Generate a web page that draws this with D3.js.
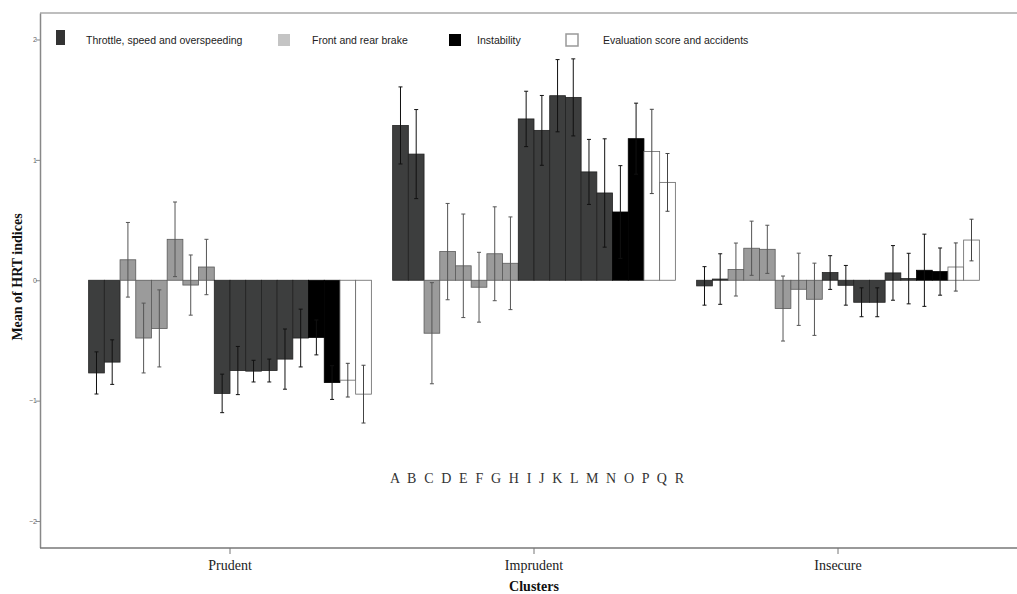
<!DOCTYPE html>
<html>
<head>
<meta charset="utf-8">
<script src="https://cdn.jsdelivr.net/npm/d3@7"></script>
<style>
  body { margin: 0; background: #fff; }
  svg { display: block; }
</style>
</head>
<body>
<script>
  var width = 1017, height = 594;
  var margin = {top: 13, right: 0, bottom: 46, left: 40};

  // indices A..R, same order inside every cluster
  var letters = ["A","B","C","D","E","F","G","H","I","J","K","L","M","N","O","P","Q","R"];
  var clusters = ["Prudent", "Imprudent", "Insecure"];
  // which family each index belongs to
  var families = ["throttle","throttle","brake","brake","brake","brake","brake","brake",
                  "throttle","throttle","throttle","throttle","throttle","throttle",
                  "instability","instability","evaluation","evaluation"];
  var familyNames = ["Throttle, speed and overspeeding", "Front and rear brake", "Instability", "Evaluation score and accidents"];

  // means
  var prudentMean   = [-0.77,-0.68,0.17,-0.48,-0.40,0.34,-0.04,0.11,-0.94,-0.75,-0.755,-0.75,-0.655,-0.48,-0.475,-0.85,-0.83,-0.946];
  var imprudentMean = [1.286,1.048,-0.44,0.238,0.12,-0.058,0.22,0.141,1.34,1.245,1.533,1.519,0.90,0.725,0.567,1.176,1.07,0.813];
  var insecureMean  = [-0.047,0.01,0.089,0.266,0.257,-0.235,-0.075,-0.158,0.064,-0.042,-0.183,-0.183,0.061,0.014,0.083,0.072,0.11,0.334];
  // half width of the error bars
  var prudentErr   = [0.175,0.185,0.31,0.29,0.32,0.31,0.25,0.23,0.16,0.2,0.09,0.095,0.25,0.24,0.145,0.14,0.14,0.24];
  var imprudentErr = [0.32,0.37,0.42,0.40,0.43,0.29,0.39,0.385,0.23,0.29,0.30,0.32,0.27,0.45,0.385,0.295,0.35,0.24];
  var insecureErr  = [0.16,0.21,0.22,0.225,0.2,0.27,0.3,0.3,0.14,0.165,0.12,0.12,0.227,0.21,0.30,0.196,0.2,0.173];

  var yTicks = [-2, -1, 0, 1, 2];

  var means = [prudentMean, imprudentMean, insecureMean];
  var errs = [prudentErr, imprudentErr, insecureErr];

  var fill = {throttle: "#3d3e3e", brake: "#9b9b9b", instability: "#000000", evaluation: "#ffffff"};
  var stroke = {throttle: "#222", brake: "#5a5a5a", instability: "#000", evaluation: "#666"};
  var whisker = {throttle: "#111", brake: "#555", instability: "#111", evaluation: "#444"};
  var legendFill = {throttle: "#333", brake: "#c4c4c4", instability: "#000", evaluation: "#fff"};

  var data = [];
  clusters.forEach(function(c, i) {
    letters.forEach(function(l, j) {
      data.push({cluster: c, letter: l, family: families[j], mean: means[i][j], err: errs[i][j]});
    });
  });

  var svg = d3.select("body").append("svg")
      .attr("width", width)
      .attr("height", height);

  var x = d3.scaleBand()
      .domain(clusters)
      .range([78, 990])
      .paddingInner(0.07)
      .paddingOuter(0.035);

  var xIn = d3.scaleBand()
      .domain(letters)
      .range([0, x.bandwidth()]);

  var y = d3.scaleLinear()
      .domain([-2.22, 2.22])
      .range([height - margin.bottom - 0.5, margin.top]);

  // frame: top line
  svg.append("line")
      .attr("x1", margin.left).attr("x2", width)
      .attr("y1", margin.top).attr("y2", margin.top)
      .attr("stroke", "#a8a8a8").attr("stroke-width", 1.5);

  // bars
  var g = svg.append("g");
  g.selectAll("rect.bar")
    .data(data)
    .enter().append("rect")
      .attr("class", "bar")
      .attr("x", function(d) { return x(d.cluster) + xIn(d.letter); })
      .attr("width", xIn.bandwidth())
      .attr("y", function(d) { return y(Math.max(0, d.mean)); })
      .attr("height", function(d) { return Math.abs(y(d.mean) - y(0)); })
      .attr("fill", function(d) { return fill[d.family]; })
      .attr("stroke", function(d) { return stroke[d.family]; })
      .attr("stroke-width", 0.8);

  // error bars
  var eb = g.selectAll("g.err")
    .data(data)
    .enter().append("g")
      .attr("class", "err")
      .attr("transform", function(d) { return "translate(" + (x(d.cluster) + xIn(d.letter) + xIn.bandwidth() / 2) + ",0)"; })
      .attr("stroke", function(d) { return whisker[d.family]; })
      .attr("stroke-width", 1);
  eb.append("line")
      .attr("y1", function(d) { return y(d.mean + d.err); })
      .attr("y2", function(d) { return y(d.mean - d.err); });
  eb.append("line")
      .attr("x1", -2).attr("x2", 2)
      .attr("y1", function(d) { return y(d.mean + d.err); })
      .attr("y2", function(d) { return y(d.mean + d.err); });
  eb.append("line")
      .attr("x1", -2).attr("x2", 2)
      .attr("y1", function(d) { return y(d.mean - d.err); })
      .attr("y2", function(d) { return y(d.mean - d.err); });

  // y axis
  var yAxis = svg.append("g")
      .attr("transform", "translate(" + margin.left + ",0)")
      .call(d3.axisLeft(y).tickValues(yTicks).tickSize(4).tickSizeOuter(0).tickFormat(d3.format("d")));
  yAxis.select(".domain").attr("stroke", "#888").attr("stroke-width", 1.5);
  yAxis.selectAll(".tick line").attr("stroke", "#888");
  yAxis.selectAll(".tick text")
      .attr("fill", "#666")
      .attr("font-family", "Liberation Sans, Arial, sans-serif")
      .attr("font-size", 7)
      .attr("x", -3);

  // x axis
  var xAxis = svg.append("g")
      .attr("transform", "translate(0," + (height - margin.bottom) + ")")
      .call(d3.axisBottom(x).tickSize(6).tickSizeOuter(0));
  xAxis.select(".domain")
      .attr("d", "M" + margin.left + ",0H" + width)
      .attr("stroke", "#777").attr("stroke-width", 1.5);
  xAxis.selectAll(".tick line").attr("stroke", "#777").attr("y2", 6);
  xAxis.selectAll(".tick text")
      .attr("fill", "#222")
      .attr("font-family", "Liberation Serif, Times New Roman, serif")
      .attr("font-size", 14)
      .attr("y", 12);

  // axis titles
  svg.append("text")
      .attr("x", 534).attr("y", 591)
      .attr("text-anchor", "middle")
      .attr("font-family", "Liberation Serif, Times New Roman, serif")
      .attr("font-weight", "bold")
      .attr("font-size", 14)
      .attr("fill", "#111")
      .text("Clusters");

  svg.append("text")
      .attr("transform", "translate(22,277) rotate(-90)")
      .attr("text-anchor", "middle")
      .attr("font-family", "Liberation Serif, Times New Roman, serif")
      .attr("font-weight", "bold")
      .attr("font-size", 14)
      .attr("fill", "#111")
      .text("Mean of HRT indices");

  // letter key in the middle of the plot
  svg.append("text")
      .attr("x", 390).attr("y", 483)
      .attr("font-family", "Liberation Serif, Times New Roman, serif")
      .attr("font-size", 14)
      .attr("fill", "#333")
      .attr("textLength", 294)
      .attr("lengthAdjust", "spacing")
      .text(letters.join(" "));

  // legend
  var legendX = [56, 278, 449, 566];
  var legendTextX = [86, 312, 477, 603];
  var fams = ["throttle", "brake", "instability", "evaluation"];
  var lg = svg.append("g");
  fams.forEach(function(f, i) {
    lg.append("rect")
        .attr("x", legendX[i]).attr("y", i == 0 ? 30 : 34)
        .attr("width", i == 0 ? 9 : 12).attr("height", i == 0 ? 15 : 12)
        .attr("fill", legendFill[f])
        .attr("stroke", f == "evaluation" ? "#999" : "none")
        .attr("stroke-width", 1.5);
    lg.append("text")
        .attr("x", legendTextX[i]).attr("y", 44)
        .attr("font-family", "Liberation Sans, Arial, sans-serif")
        .attr("font-size", 10.5)
        .attr("fill", "#222")
        .text(familyNames[i]);
  });
</script>
</body>
</html>
